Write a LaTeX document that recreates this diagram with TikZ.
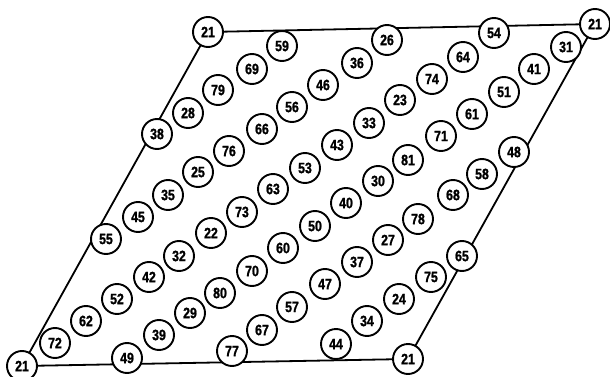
\documentclass[tikz,border=0pt]{standalone}
\usepackage{fontspec}
\newfontfamily\numfont[FakeStretch=0.82,FakeBold=1.2]{Liberation Sans}
\usetikzlibrary{backgrounds}
\begin{document}
\begin{tikzpicture}[x=1pt,y=-1pt,
  num/.style={circle,draw,line width=1.9pt,minimum size=30pt,inner sep=0pt,fill=white,
    font=\numfont\bfseries\fontsize{15}{15}\selectfont},
  edge/.style={line width=1.8pt}]
\useasboundingbox (0,0) rectangle (610,377);
\node[num] (tl) at (208,32) {21};
\node[num] (tr) at (595,24) {21};
\node[num] (bl) at (22,366) {21};
\node[num] (br) at (408,359) {21};
\foreach \n/\x/\y in {59/282/46,69/252/69,79/218/90,28/188/113,38/157/134,
  56/292/107,66/262/129,76/229/151,25/198/172,26/387/40,54/494/33,
  31/566/47,41/534/69,51/504/92,61/472/114,71/441/136,81/408/160,30/378/181,
  36/357/63,46/323/85,74/432/79,64/463/57,23/400/100,33/369/123,43/337/145,
  48/514/152,58/482/174,53/305/168,63/273/189,73/242/212,22/211/233,32/179/256,
  42/149/277,52/117/299,62/86/321,72/55/343,45/138/217,35/168/195,55/106/239,
  49/127/358,39/159/335,29/190/313,80/220/293,70/252/271,60/283/248,
  77/232/351,67/262/330,57/292/307,40/346/203,50/315/226,
  68/453/195,78/418/219,27/388/240,37/357/262,47/325/284,
  65/462/256,75/431/277,24/399/299,34/367/321,44/336/344}
  \node[num] (n\n) at (\x,\y) {\n};
\begin{scope}[on background layer]
\draw[edge] (tl.center) -- (tr.center) -- (br.center) -- (bl.center) -- (tl.center);
\end{scope}
\end{tikzpicture}
\end{document}
